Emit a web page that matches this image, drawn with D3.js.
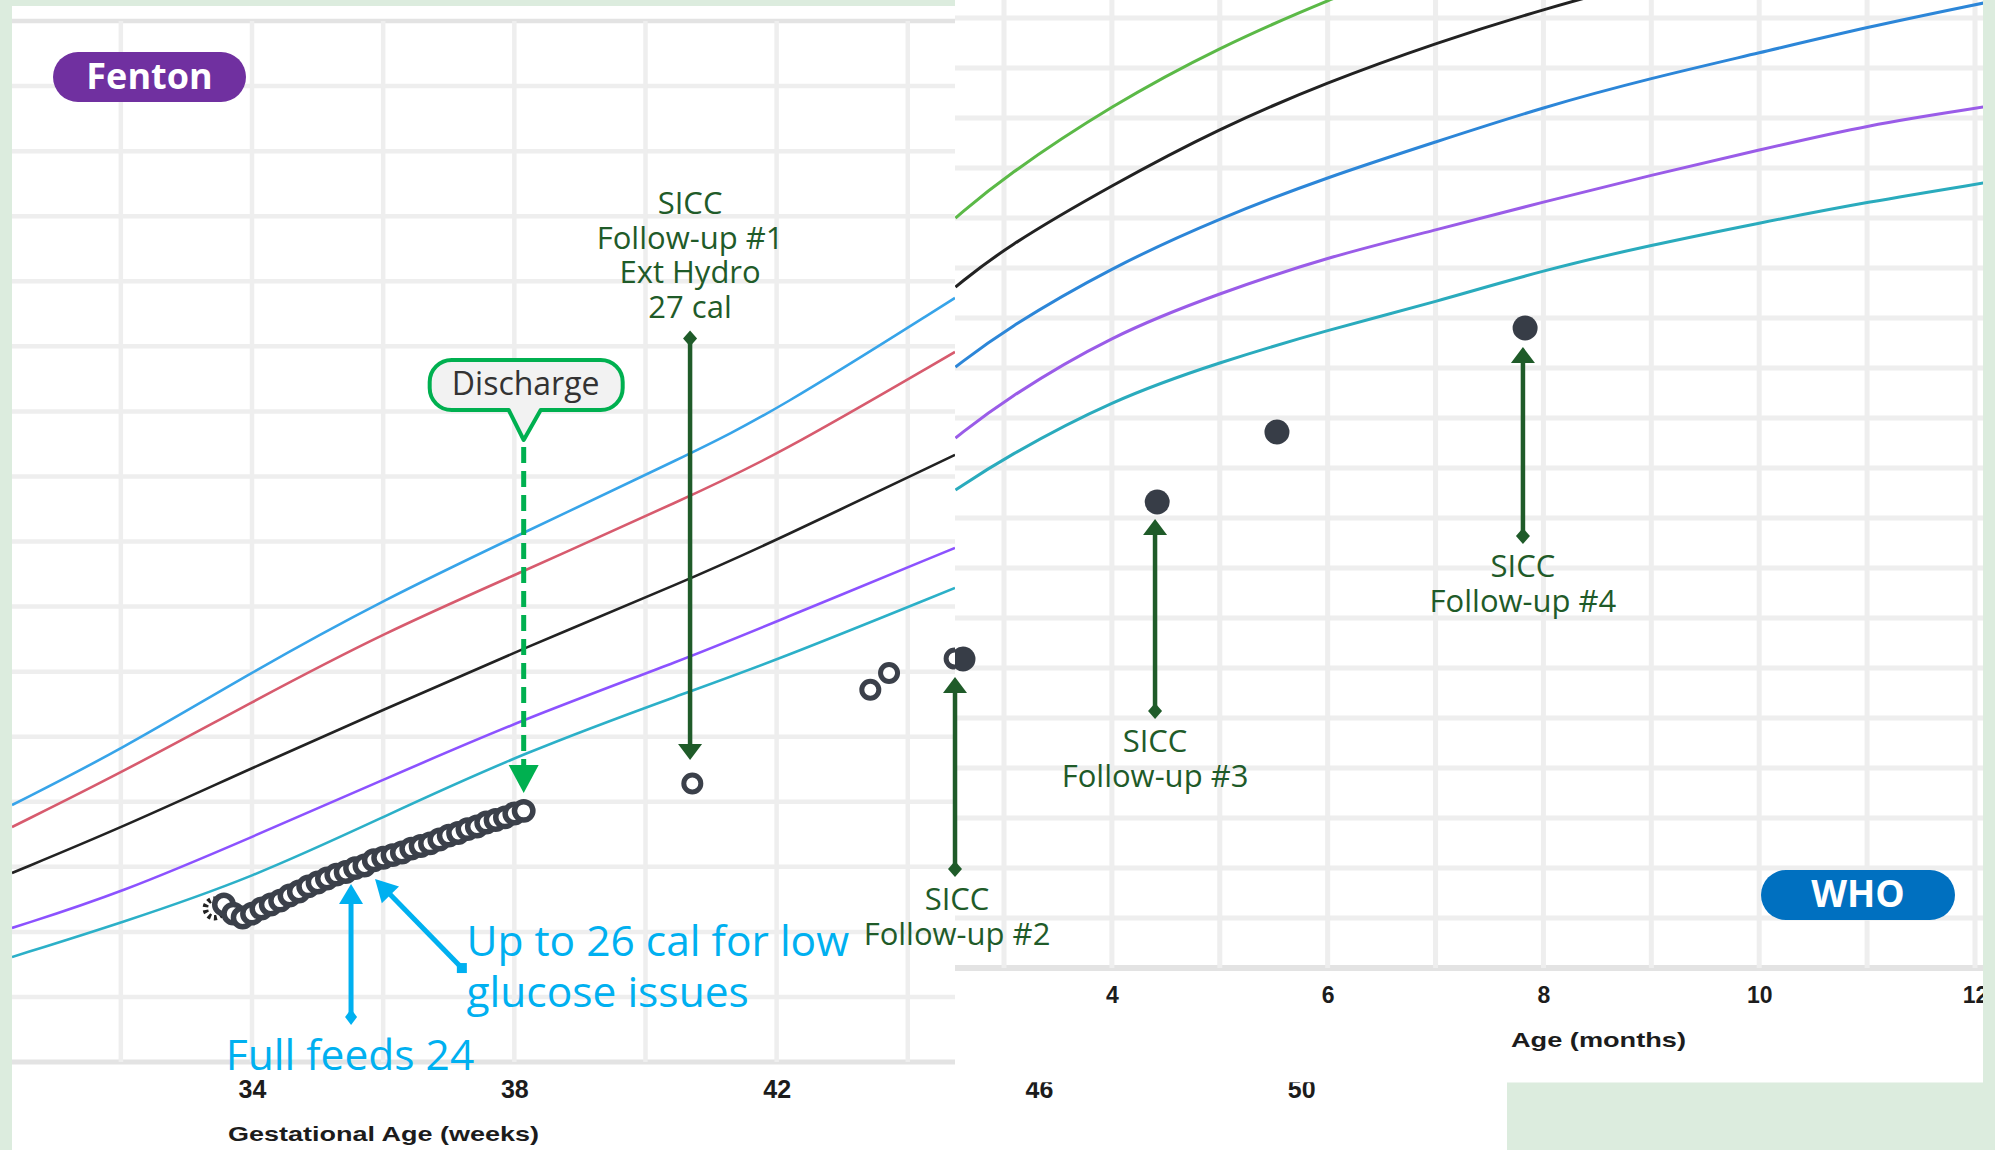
<!DOCTYPE html>
<html>
<head>
<meta charset="utf-8">
<title>Fenton / WHO growth chart</title>
<script src="https://cdn.jsdelivr.net/npm/d3@7/dist/d3.min.js"></script>
<style>
  html, body { margin: 0; padding: 0; background: #ffffff; }
  svg { display: block; }
</style>
</head>
<body>
<svg id="chart" width="1995" height="1150"></svg>
<script>
// ================= DATA =================
// Fenton panel (x: gestational age in weeks, y: weight in kg)
const fentonTickWeeks = [34, 38, 42, 46, 50];
const fentonGridWeeks = [32, 34, 36, 38, 40, 42, 44];
const fentonGridKg = [0, 0.5, 1, 1.5, 2, 2.5, 3, 3.5, 4, 4.5, 5, 5.5, 6, 6.5, 7, 7.5, 8];
const fentonCurveWeeks = [30.34, 32, 34, 36, 38.1, 40.65, 41.94, 44.72];
const fentonP97 = [1.975, 2.398, 2.998, 3.551, 4.058, 4.666, 4.988, 5.872];
const fentonP90 = [1.806, 2.221, 2.767, 3.297, 3.762, 4.343, 4.643, 5.457];
const fentonP50 = [1.453, 1.799, 2.260, 2.706, 3.171, 3.705, 3.997, 4.666];
const fentonP10 = [1.030, 1.299, 1.729, 2.168, 2.629, 3.105, 3.374, 3.951];
const fentonP3  = [0.807, 1.068, 1.414, 1.883, 2.371, 2.844, 3.075, 3.643];

// Daily inpatient weights (postmenstrual age in days, weight kg)
const inpatientDays = [234, 235, 236, 237, 238, 239, 240, 241, 242, 243, 244, 245, 246, 247, 248, 249, 250,
                       251, 252, 253, 254, 255, 256, 257, 258, 259, 260, 261, 262, 263, 264, 265, 266, 267];
const inpatientKg = [1.18, 1.21, 1.14, 1.11, 1.14, 1.18, 1.21, 1.24, 1.28, 1.31, 1.35, 1.38, 1.41, 1.44, 1.46, 1.49, 1.51,
                     1.55, 1.57, 1.59, 1.61, 1.64, 1.66, 1.68, 1.71, 1.74, 1.76, 1.79, 1.81, 1.84, 1.86, 1.88, 1.91, 1.93];
// Post-discharge weights on the Fenton chart
const clinicDays = [285, 304, 306, 313];
const clinicKg = [2.14, 2.86, 2.99, 3.10];

// WHO panel (x: age in months, y: weight in kg)
const whoTickMonths = [4, 6, 8, 10, 12];
const whoGridMonths = [3, 4, 5, 6, 7, 8, 9, 10, 11, 12];
const whoGridKg = [0, 0.5, 1, 1.5, 2, 2.5, 3, 3.5, 4, 4.5, 5, 5.5, 6, 6.5, 7, 7.5, 8, 8.5, 9, 9.5];
const whoCurveMonths = [2.55, 3, 4, 5, 6, 7, 8, 9, 10, 11, 12.08];
const whoGreen  = [7.50, 7.91, 8.63, 9.21, 9.68, 10.10, null, null, null, null, null];
const whoBlack  = [6.81, 7.20, 7.83, 8.40, 8.86, 9.25, 9.59, 9.88, null, null, null];
const whoBlue   = [6.01, 6.38, 7.01, 7.50, 7.91, 8.26, 8.61, 8.90, 9.15, 9.41, 9.65];
const whoPurple = [5.30, 5.68, 6.33, 6.75, 7.11, 7.38, 7.66, 7.93, 8.18, 8.43, 8.61];
const whoTeal   = [4.78, 5.10, 5.68, 6.06, 6.38, 6.66, 6.98, 7.23, 7.45, 7.66, 7.85];
const whoVisitMonths = [2.62, 4.42, 5.53, 7.83];
const whoVisitKg = [3.09, 4.66, 5.36, 6.40];

// Annotations (anchored in data units)
const siccNotes = [
  { panel: "F", x: 40.68, tail: 5.56, tip: 2.32, side: "above", lines: ["SICC", "Follow-up #1", "Ext Hydro", "27 cal"] },
  { panel: "W", x: 2.546, tail: 0.99, tip: 2.91, side: "below", lines: ["SICC", "Follow-up #2"] },
  { panel: "W", x: 4.40, tail: 2.57, tip: 4.49, side: "below", lines: ["SICC", "Follow-up #3"] },
  { panel: "W", x: 7.81, tail: 4.32, tip: 6.21, side: "below", lines: ["SICC", "Follow-up #4"] }
];
const dischargeNote = { day: 267, calloutTipKg: 4.78, lineTopKg: 4.726, arrowTipKg: 2.067, label: "Discharge" };
const fullFeedsNote = { week: 35.51, tailKg: 0.346, tipKg: 1.368, textWeek: 33.60, textKg: -0.061, label: "Full feeds 24" };
const glucoseNote = { tailWeek: 37.20, tailKg: 0.722, tipWeek: 35.876, tipKg: 1.406,
                      textWeek: 37.27, textKg: [0.815, 0.423], lines: ["Up to 26 cal for low", "glucose issues"] };

// ================= SCALES =================
const fx = d3.scaleLinear().domain([30.34, 44.72]).range([12, 955]);
const fy = d3.scaleLinear().domain([0, 8]).range([1062, 21]);
const wx = d3.scaleLinear().domain([3, 12]).range([1004, 1975]);
const wy = d3.scaleLinear().domain([0, 9.5]).range([968, 18]);

const svg = d3.select("#chart");
const defs = svg.append("defs");
defs.append("clipPath").attr("id", "clipF").append("rect")
  .attr("x", 12).attr("y", 6).attr("width", 943).attr("height", 1144);
defs.append("clipPath").attr("id", "clipW").append("rect")
  .attr("x", 955).attr("y", 0).attr("width", 1028).attr("height", 1082.5);

svg.append("rect").attr("width", 1995).attr("height", 1150).attr("fill", "#ffffff");

const GRID = "#eeeeee";
const FONT = "'Open Sans', 'Noto Sans', sans-serif";
const AXFONT = "'Liberation Sans', Arial, sans-serif";

// ================= FENTON PANEL =================
const fen = svg.append("g");
const fPlot = fen.append("g").attr("clip-path", "url(#clipF)");

fPlot.selectAll("line.fh").data(fentonGridKg).join("line").attr("class", "fh")
  .attr("x1", 12).attr("x2", 955)
  .attr("y1", d => fy(d)).attr("y2", d => fy(d))
  .attr("stroke", d => (d === 0 || d === 8) ? "#e3e3e3" : GRID)
  .attr("stroke-width", d => (d === 0) ? 5 : 4.5);
fPlot.selectAll("line.fv").data(fentonGridWeeks).join("line").attr("class", "fv")
  .attr("x1", d => fx(d)).attr("x2", d => fx(d))
  .attr("y1", fy(8)).attr("y2", fy(0))
  .attr("stroke", GRID).attr("stroke-width", 4.5);

const fentonSeries = [
  { values: fentonP97, color: "#37a4e9" },
  { values: fentonP90, color: "#d75b6e" },
  { values: fentonP50, color: "#222222" },
  { values: fentonP10, color: "#8c52ff" },
  { values: fentonP3,  color: "#2cb0c8" }
];
const fLine = d3.line().x(d => fx(d[0])).y(d => fy(d[1])).curve(d3.curveBasis);
fPlot.selectAll("path.fc").data(fentonSeries).join("path").attr("class", "fc")
  .attr("d", s => fLine(fentonCurveWeeks.map((w, i) => [w, s.values[i]])))
  .attr("fill", "none").attr("stroke", s => s.color).attr("stroke-width", 2.6);

// inpatient rings
const inpatient = inpatientDays.map((d, i) => ({ w: d / 7, kg: inpatientKg[i], first: i === 0 }));
fPlot.selectAll("circle.ip").data(inpatient).join("circle").attr("class", "ip")
  .attr("cx", d => fx(d.w)).attr("cy", d => fy(d.kg)).attr("r", 9.2)
  .attr("fill", "#ffffff")
  .attr("stroke", d => d.first ? "#222222" : "#3b404a")
  .attr("stroke-width", 5.5)
  .attr("stroke-dasharray", d => d.first ? "3 3" : null);
const clinic = clinicDays.map((d, i) => ({ w: d / 7, kg: clinicKg[i] }));
fPlot.selectAll("circle.cl").data(clinic).join("circle").attr("class", "cl")
  .attr("cx", d => fx(d.w)).attr("cy", d => fy(d.kg)).attr("r", 8.5)
  .attr("fill", "#ffffff").attr("stroke", "#3b404a").attr("stroke-width", 5);

// Fenton x axis labels
const fAxis = fen.append("g").attr("transform", `translate(0,${fy(0)})`)
  .call(d3.axisBottom(fx).tickValues(fentonTickWeeks).tickSize(0).tickPadding(18).tickFormat(d3.format("d")));
fAxis.select(".domain").remove();
fAxis.selectAll("text").attr("font-family", AXFONT).attr("font-weight", "bold")
  .attr("font-size", 25).attr("fill", "#1c1c1c");
fen.append("text").attr("x", 228).attr("y", 1141)
  .attr("font-family", AXFONT).attr("font-weight", "bold").attr("font-size", 21).attr("fill", "#1c1c1c")
  .attr("textLength", 311).attr("lengthAdjust", "spacingAndGlyphs")
  .text("Gestational Age (weeks)");

// ================= WHO PANEL =================
const who = svg.append("g").attr("clip-path", "url(#clipW)");
who.append("rect").attr("x", 955).attr("y", 0).attr("width", 1028).attr("height", 1082.5).attr("fill", "#ffffff");
who.selectAll("line.wh").data(whoGridKg).join("line").attr("class", "wh")
  .attr("x1", 955).attr("x2", 1983)
  .attr("y1", d => wy(d)).attr("y2", d => wy(d))
  .attr("stroke", d => d === 0 ? "#e3e3e3" : GRID).attr("stroke-width", d => d === 0 ? 6 : 5);
who.selectAll("line.wv").data(whoGridMonths).join("line").attr("class", "wv")
  .attr("x1", d => wx(d)).attr("x2", d => wx(d))
  .attr("y1", 0).attr("y2", wy(0))
  .attr("stroke", GRID).attr("stroke-width", 5);

const whoSeries = [
  { values: whoGreen,  color: "#5bb947" },
  { values: whoBlack,  color: "#222222" },
  { values: whoBlue,   color: "#2c86d8" },
  { values: whoPurple, color: "#9a5ce8" },
  { values: whoTeal,   color: "#2aabbd" }
];
const wLine = d3.line().defined(d => d[1] != null)
  .x(d => wx(d[0])).y(d => wy(d[1])).curve(d3.curveBasis);
who.selectAll("path.wc").data(whoSeries).join("path").attr("class", "wc")
  .attr("d", s => wLine(whoCurveMonths.map((m, i) => [m, s.values[i]])))
  .attr("fill", "none").attr("stroke", s => s.color).attr("stroke-width", 3);

const whoVisits = whoVisitMonths.map((m, i) => ({ m, kg: whoVisitKg[i] }));
who.selectAll("circle.wp").data(whoVisits).join("circle").attr("class", "wp")
  .attr("cx", d => wx(d.m)).attr("cy", d => wy(d.kg)).attr("r", 12.5)
  .attr("fill", "#373d47");

const wAxis = who.append("g").attr("transform", `translate(0,${wy(0)})`)
  .call(d3.axisBottom(wx).tickValues(whoTickMonths).tickSize(0).tickPadding(19).tickFormat(d3.format("d")));
wAxis.select(".domain").remove();
wAxis.selectAll("text").attr("font-family", AXFONT).attr("font-weight", "bold")
  .attr("font-size", 23).attr("fill", "#1c1c1c");
who.append("text").attr("x", 1511).attr("y", 1047)
  .attr("font-family", AXFONT).attr("font-weight", "bold").attr("font-size", 21).attr("fill", "#1c1c1c")
  .attr("textLength", 175).attr("lengthAdjust", "spacingAndGlyphs")
  .text("Age (months)");

// ================= ANNOTATIONS =================
const ann = svg.append("g");
const SICC_GREEN = "#1f5b29";

function diamond(g, x, y, color, hw = 7, hh = 8) {
  g.append("path").attr("d", `M${x},${y - hh}L${x + hw},${y}L${x},${y + hh}L${x - hw},${y}Z`).attr("fill", color);
}
function arrow(g, x1, y1, x2, y2, color, width, headLen, headHalf, dash) {
  const dx = x2 - x1, dy = y2 - y1, L = Math.hypot(dx, dy);
  const ux = dx / L, uy = dy / L;
  const bx = x2 - ux * headLen, by = y2 - uy * headLen;
  g.append("line").attr("x1", x1).attr("y1", y1).attr("x2", bx + ux * 1).attr("y2", by + uy * 1)
    .attr("stroke", color).attr("stroke-width", width).attr("stroke-dasharray", dash || null);
  g.append("path")
    .attr("d", `M${x2},${y2}L${bx - uy * headHalf},${by + ux * headHalf}L${bx + uy * headHalf},${by - ux * headHalf}Z`)
    .attr("fill", color);
}

siccNotes.forEach(n => {
  const X = n.panel === "F" ? fx(n.x) : wx(n.x);
  const Y = n.panel === "F" ? fy : wy;
  const yTail = Y(n.tail), yTip = Y(n.tip);
  arrow(ann, X, yTail, X, yTip, SICC_GREEN, 4.5, 16, 12);
  diamond(ann, X, yTail, SICC_GREEN);
  const t = ann.append("text").attr("text-anchor", "middle")
    .attr("font-family", FONT).attr("font-size", 31).attr("fill", SICC_GREEN);
  n.lines.forEach((line, i) => {
    const base = n.side === "above"
      ? yTail - 21 - (n.lines.length - 1 - i) * 34.5
      : yTail + 41 + i * 34.5;
    t.append("tspan").attr("x", X + (n.panel === "W" && n.x < 3 ? 2 : 0)).attr("y", base).text(line);
  });
});

// Discharge callout
{
  const tx = fx(dischargeNote.day / 7), ty = fy(dischargeNote.calloutTipKg);
  const x0 = tx - 94, x1 = tx + 99, y0 = ty - 80, y1 = ty - 30, r = 22;
  const pL = tx - 15, pR = tx + 17;
  ann.append("path")
    .attr("d", `M${x0 + r},${y0}H${x1 - r}A${r},${r} 0 0 1 ${x1},${y0 + r}V${y1 - r}A${r},${r} 0 0 1 ${x1 - r},${y1}` +
               `H${pR}L${tx},${ty}L${pL},${y1}H${x0 + r}A${r},${r} 0 0 1 ${x0},${y1 - r}V${y0 + r}A${r},${r} 0 0 1 ${x0 + r},${y0}Z`)
    .attr("fill", "#f2f2f2").attr("stroke", "#00b050").attr("stroke-width", 4).attr("stroke-linejoin", "round");
  ann.append("text").attr("x", tx + 2).attr("y", ty - 45).attr("text-anchor", "middle")
    .attr("font-family", FONT).attr("font-size", 32).attr("fill", "#333333").text(dischargeNote.label);
  arrow(ann, tx, fy(dischargeNote.lineTopKg), tx, fy(dischargeNote.arrowTipKg), "#00b050", 5, 28, 15, "16 8");
}

// Blue annotations
const BLUE = "#00b0f0";
{
  const X = fx(fullFeedsNote.week);
  arrow(ann, X, fy(fullFeedsNote.tailKg), X, fy(fullFeedsNote.tipKg), BLUE, 5, 20, 12);
  diamond(ann, X, fy(fullFeedsNote.tailKg), BLUE, 6, 8);
  ann.append("text").attr("x", fx(fullFeedsNote.textWeek)).attr("y", fy(fullFeedsNote.textKg))
    .attr("font-family", FONT).attr("font-size", 42.5).attr("fill", BLUE).text(fullFeedsNote.label);

  const sx = fx(glucoseNote.tailWeek), sy = fy(glucoseNote.tailKg);
  arrow(ann, sx, sy, fx(glucoseNote.tipWeek), fy(glucoseNote.tipKg), BLUE, 5, 22, 12);
  ann.append("rect").attr("x", sx - 5).attr("y", sy - 5).attr("width", 10).attr("height", 10).attr("fill", BLUE);
  glucoseNote.lines.forEach((line, i) => {
    ann.append("text").attr("x", fx(glucoseNote.textWeek)).attr("y", fy(glucoseNote.textKg[i]))
      .attr("font-family", FONT).attr("font-size", 42.5).attr("fill", BLUE).text(line);
  });
}

// Badges
function badge(x, y, w, h, color, label, fs, baseline) {
  ann.append("rect").attr("x", x).attr("y", y).attr("width", w).attr("height", h)
    .attr("rx", h / 2).attr("ry", h / 2).attr("fill", color);
  ann.append("text").attr("x", x + w / 2).attr("y", baseline).attr("text-anchor", "middle")
    .attr("font-family", FONT).attr("font-weight", 700).attr("font-size", fs).attr("fill", "#ffffff").text(label);
}
badge(53, 52, 193, 50, "#7030a0", "Fenton", 36, 89);
badge(1761, 870, 194, 50, "#0070c0", "WHO", 37, 907);

// ================= FRAME =================
const FRAME = "#dcecde";
svg.append("rect").attr("x", 0).attr("y", 0).attr("width", 12).attr("height", 1150).attr("fill", FRAME);
svg.append("rect").attr("x", 0).attr("y", 0).attr("width", 955).attr("height", 6).attr("fill", FRAME);
svg.append("rect").attr("x", 1983).attr("y", 0).attr("width", 12).attr("height", 1150).attr("fill", FRAME);
svg.append("rect").attr("x", 1507).attr("y", 1082.5).attr("width", 488).attr("height", 68).attr("fill", FRAME);
</script>
</body>
</html>
